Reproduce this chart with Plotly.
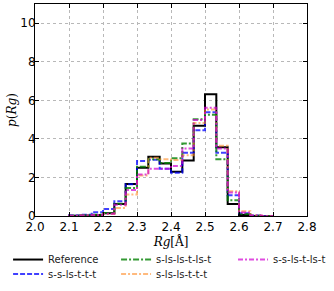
import plotly.graph_objects as go

# bin edges (width 1/30)
bin_edges = [2.1, 2.1333, 2.1667, 2.2, 2.2333, 2.2667, 2.3, 2.3333, 2.3667, 2.4,
             2.4333, 2.4667, 2.5, 2.5333, 2.5667, 2.6, 2.6333, 2.6667, 2.7]

reference = [0.01, 0.02, 0.05, 0.14, 0.62, 1.66, 2.50, 3.08, 2.72, 2.30,
             2.88, 4.68, 6.32, 3.57, 0.62, 0.05, 0.0, 0.0]
s_s_ls_t_t_t = [0.02, 0.06, 0.20, 0.36, 0.76, 1.65, 2.85, 2.92, 2.45, 2.25,
                3.28, 4.45, 5.38, 3.28, 1.08, 0.14, 0.02, 0.0]
s_ls_ls_t_ls_t = [0.01, 0.02, 0.06, 0.15, 0.64, 1.45, 2.55, 2.95, 2.75, 3.00,
                  3.76, 5.02, 5.26, 2.95, 0.82, 0.10, 0.01, 0.0]
s_ls_ls_t_t_t = [0.0, 0.02, 0.04, 0.10, 0.42, 1.12, 2.10, 3.02, 2.95, 2.90,
                 3.15, 4.82, 5.52, 3.65, 1.28, 0.25, 0.03, 0.0]
s_s_ls_t_ls_t = [0.01, 0.02, 0.05, 0.12, 0.58, 1.35, 2.15, 2.45, 2.45, 2.60,
                 3.50, 4.98, 5.62, 3.50, 1.22, 0.18, 0.02, 0.0]

x_ticks = [2.0, 2.1, 2.2, 2.3, 2.4, 2.5, 2.6, 2.7, 2.8]
y_ticks = [0, 2, 4, 6, 8, 10]

# name, values, colour, dash, legend slot (column, row)
series = [
    ("Reference", reference, "rgba(0,0,0,1)", "solid", (0, 0)),
    ("s-s-ls-t-t-t", s_s_ls_t_t_t, "rgba(0,0,255,0.75)", "5px,2px", (0, 1)),
    ("s-ls-ls-t-ls-t", s_ls_ls_t_ls_t, "rgba(0,128,0,0.8)", "6px,2px,2px,2px", (1, 0)),
    ("s-ls-ls-t-t-t", s_ls_ls_t_t_t, "rgba(255,140,40,0.6)", "5px,2px,2px,2px", (1, 1)),
    ("s-s-ls-t-ls-t", s_s_ls_t_ls_t, "rgba(210,0,210,0.7)", "5px,2px,2px,2px", (2, 0)),
]

col_x = [-0.099, 0.298, 0.728]
row_y = [-0.137, -0.205]

fig = go.Figure()
leg_layout = {}
for i, (name, vals, color, dash, (c, r)) in enumerate(series):
    xs = [bin_edges[0]] + bin_edges[:-1] + [bin_edges[-1]]
    ys = [0] + list(vals) + [0]
    leg_name = "legend" if i == 0 else f"legend{i + 1}"
    fig.add_trace(go.Scatter(
        x=xs, y=ys, mode="lines", name=name, legend=leg_name, showlegend=True,
        line=dict(color=color, width=2, dash=dash, shape="hv"),
    ))
    leg_layout[leg_name] = dict(
        x=col_x[c], y=row_y[r], xanchor="left", yanchor="top",
        orientation="v", itemwidth=30, bgcolor="rgba(0,0,0,0)",
        font=dict(family="DejaVu Sans", size=10, color="#222"),
    )

axis_common = dict(
    showline=True, linecolor="black", linewidth=1, mirror="ticks",
    ticks="inside", ticklen=4, tickcolor="black",
    showgrid=True, gridcolor="#b8b8b8", griddash="dot", gridwidth=1,
    zeroline=False, automargin=False,
    tickfont=dict(family="DejaVu Sans", size=12, color="black"),
)

fig.update_xaxes(range=[2.0, 2.8], tickvals=x_ticks,
                 ticktext=[f"{v:.1f}" for v in x_ticks],
                 title=dict(text="<i>Rg</i>[Å]", standoff=2,
                            font=dict(family="DejaVu Serif", size=12, color="black")),
                 **axis_common)
fig.update_yaxes(range=[0, 11], tickvals=y_ticks, ticklabelstandoff=-4,
                 title=dict(text="<i>p</i>(<i>Rg</i>)", standoff=1,
                            font=dict(family="DejaVu Serif", size=12, color="black")),
                 **axis_common)

fig.update_layout(
    width=334, height=291,
    margin=dict(l=35, r=27, t=4, b=75, autoexpand=False),
    plot_bgcolor="white", paper_bgcolor="white",
    showlegend=True,
    **leg_layout,
)

fig.write_html("out.html", config={"displayModeBar": False},
               post_script="document.body.style.margin='0';")
